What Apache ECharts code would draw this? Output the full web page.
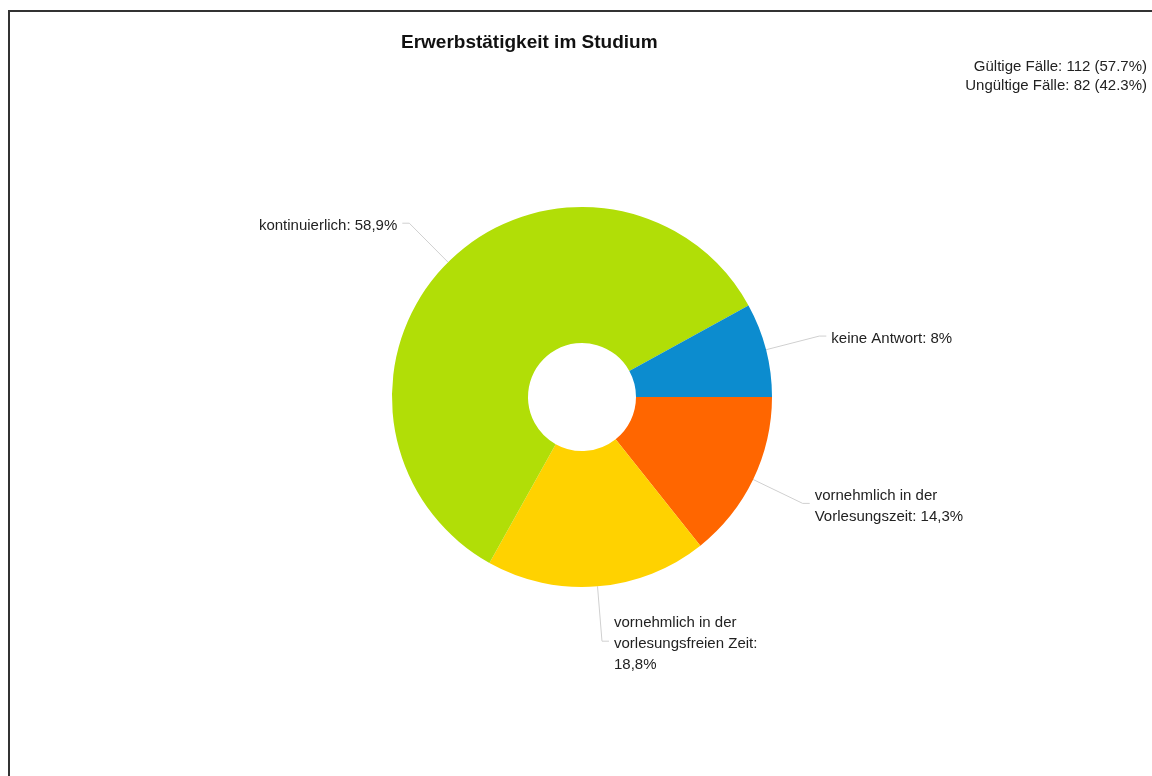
<!DOCTYPE html>
<html>
<head>
<meta charset="utf-8">
<script src="https://cdn.jsdelivr.net/npm/echarts@6/dist/echarts.min.js"></script>
<style>
  html, body { margin: 0; padding: 0; background: #fff; }
  #frame { position: absolute; left: 8px; top: 10px; width: 1200px; height: 800px;
           border-left: 2px solid #333; border-top: 2px solid #333; }
  #chart { position: absolute; left: 0; top: 0; width: 1152px; height: 776px; }
</style>
</head>
<body>
<div id="frame"></div>
<div id="chart"></div>
<script>
// Reihenfolge im Uhrzeigersinn ab 3 Uhr
const categories = [
  "vornehmlich in der\nVorlesungszeit",
  "vornehmlich in der\nvorlesungsfreien Zeit",
  "kontinuierlich",
  "keine Antwort"
];
const percentValues = [14.3, 18.8, 58.9, 8];
const valueBreaks = [" ", "\n", " ", " "]; // Umbruch vor dem Wert
const colors = ["#ff6600", "#ffd200", "#b1de07", "#0c8ccf"];
const caseInfo = ["Gültige Fälle: 112 (57.7%)", "Ungültige Fälle: 82 (42.3%)"];

const font = "'Liberation Sans', Arial, sans-serif";
const infoStyle = { fontFamily: font, fontSize: 15, fontWeight: "normal", color: "#222" };

const chart = echarts.init(document.getElementById("chart"));
chart.setOption({
  backgroundColor: "transparent",
  color: colors,
  title: [
    {
      text: "Erwerbstätigkeit im Studium",
      left: 396,
      top: 28,
      textStyle: { fontFamily: font, fontSize: 19, fontWeight: "bold", color: "#111" }
    },
    { text: caseInfo[0], right: 0, top: 54, textStyle: infoStyle },
    { text: caseInfo[1], right: 0, top: 73, textStyle: infoStyle }
  ],
  series: [
    {
      type: "pie",
      center: [582, 397],
      radius: [54, 190],
      startAngle: 0,
      clockwise: true,
      avoidLabelOverlap: false,
      silent: true,
      label: {
        show: true,
        position: "outside",
        fontFamily: font,
        fontSize: 15,
        color: "#222",
        lineHeight: 21,
        formatter: (p) =>
          p.name + ":" + valueBreaks[p.dataIndex] + String(p.value).replace(".", ",") + "%"
      },
      labelLayout: { dy: 3 },
      labelLine: {
        show: true,
        length: 55,
        length2: 7,
        smooth: false,
        lineStyle: { color: "#d0d0d0", width: 1 }
      },
      data: categories.map((name, i) => ({ name, value: percentValues[i] }))
    }
  ]
});
</script>
</body>
</html>
